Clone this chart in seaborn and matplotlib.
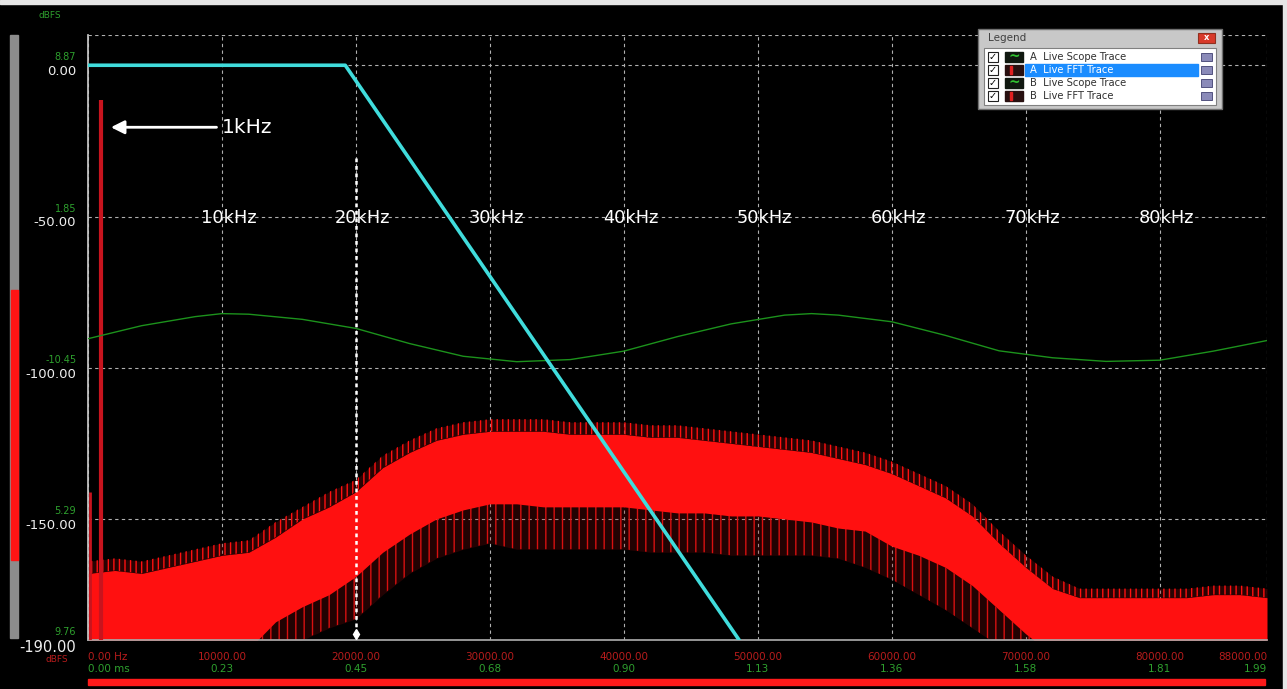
import numpy as np
import pandas as pd
import matplotlib
matplotlib.use('Agg')
import matplotlib.pyplot as plt
import seaborn as sns
from matplotlib.patches import Rectangle
from matplotlib.transforms import blended_transform_factory

# values
fft_khz = list(range(0, 89, 2))
fft_top = [-168, -167, -168, -166, -164, -162, -161, -156, -150, -146, -141, -133, -128, -124, -122,
           -121, -121, -121, -122, -122, -122, -123, -123, -124, -125, -126, -127, -128, -130, -132,
           -135, -139, -143, -149, -158, -166, -173, -176, -176, -176, -176, -176, -175, -175, -176]
fft_peak = [-164, -163, -164, -162, -160, -158, -157, -151, -146, -141, -137, -129, -124, -120, -118,
            -117, -117, -117, -118, -118, -118, -119, -119, -120, -121, -122, -123, -124, -126, -128,
            -131, -135, -139, -145, -154, -162, -169, -173, -173, -173, -173, -173, -172, -172, -173]
fft_bottom = [-195, -195, -195, -195, -195, -195, -193, -184, -179, -175, -169, -161, -155, -150, -147,
              -145, -145, -146, -146, -146, -146, -147, -148, -148, -149, -149, -150, -151, -153, -154,
              -159, -162, -166, -172, -180, -188, -195, -195, -195, -195, -195, -195, -195, -195, -195]
fft_dip = [-195, -195, -195, -195, -195, -195, -195, -195, -190, -186, -183, -175, -168, -163, -160,
           -158, -160, -160, -160, -160, -160, -161, -161, -161, -162, -162, -162, -162, -163, -166,
           -170, -175, -180, -186, -192, -195, -195, -195, -195, -195, -195, -195, -195, -195, -195]
spike_hz = [150, 1000]
spike_db = [-141, -11.6]

filter_hz = [0, 19200, 48600]
filter_db = [0, 0, -190]

scope_khz = [0, 4, 8, 10, 12, 16, 20, 24, 28, 32, 36, 40, 44, 48, 52, 54, 56, 60, 64, 68, 72, 76, 80, 84, 88]
scope_db = [-90.4, -86.1, -83.1, -82.1, -82.3, -84.0, -87.0, -92.0, -96.2, -98.0, -97.3, -94.5, -89.7,
            -85.5, -82.6, -82.1, -82.6, -84.8, -89.3, -94.4, -96.7, -97.9, -97.5, -94.5, -91.0]

freq_ticks = [0, 10000, 20000, 30000, 40000, 50000, 60000, 70000, 80000, 88000]
freq_labels = ['0.00 Hz', '10000.00', '20000.00', '30000.00', '40000.00', '50000.00',
               '60000.00', '70000.00', '80000.00', '88000.00']
time_labels = ['0.00 ms', '0.23', '0.45', '0.68', '0.90', '1.13', '1.36', '1.58', '1.81', '1.99']
db_ticks = [0, -50, -100, -150, -190]
db_labels = ['0.00', '-50.00', '-100.00', '-150.00', '-190.00']
scope_labels = ['8.87', '1.85', '-10.45', '5.29', '9.76']
marker_hz = [10000, 20000, 30000, 40000, 50000, 60000, 70000, 80000]
marker_labels = ['10kHz', '20kHz', '30kHz', '40kHz', '50kHz', '60kHz', '70kHz', '80kHz']
legend_entries = ['A  Live Scope Trace', 'A  Live FFT Trace', 'B  Live Scope Trace', 'B  Live FFT Trace']

sns.set_theme(style='dark', rc={'axes.facecolor': 'black', 'figure.facecolor': 'black'})
plt.rcParams['font.family'] = ['DejaVu Sans']
plt.rcParams['hatch.linewidth'] = 1.0

W, H = 1287, 689
fig = plt.figure(figsize=(W / 100, H / 100), dpi=100)
ax = fig.add_axes([88 / W, 1 - 640 / H, (1267 - 88) / W, (640 - 35) / H])
ax.set_facecolor('black')

# FFT trace: solid band between envelopes, hatched spike zones above and below
hz = np.array(fft_khz) * 1000
ax.fill_between(hz, fft_dip, fft_bottom, color='#8a0a0a', alpha=0.25, lw=0, zorder=2)
ax.fill_between(hz, fft_dip, fft_bottom, facecolor='none', edgecolor='#d81010',
                hatch='||', lw=0, zorder=2)
ax.fill_between(hz, fft_bottom, fft_top, color='#ff1010', lw=0, zorder=2)
ax.fill_between(hz, fft_top, fft_peak, color='#8a0a0a', alpha=0.3, lw=0, zorder=2)
ax.fill_between(hz, fft_top, fft_peak, facecolor='none', edgecolor='#ff1010',
                hatch='|||', lw=0, zorder=2)
ax.vlines(spike_hz, -190, spike_db, colors='#c8141e', linewidths=[2, 3], zorder=3)

scope = pd.DataFrame({'hz': np.array(scope_khz) * 1000, 'db': scope_db})
sns.lineplot(data=scope, x='hz', y='db', ax=ax, color='#1c921c', lw=1.0, zorder=4)
filt = pd.DataFrame({'hz': filter_hz, 'db': filter_db})
sns.lineplot(data=filt, x='hz', y='db', ax=ax, color='#40dcdc', lw=2.6, zorder=5)

# 20 kHz marker
ax.plot([20000, 20000], [-30.5, -189], color='white', lw=1.8, ls=(0, (1.5, 1.5)), zorder=6)
ax.plot([20000], [-188], marker='d', color='white', ms=5, zorder=6)

# 1 kHz arrow
ax.annotate('', xy=(1500, -20.5), xytext=(9800, -20.5),
            arrowprops=dict(arrowstyle='-|>', color='white', lw=2, mutation_scale=20), zorder=7)
ax.text(10000, -20.5, '1kHz', color='white', fontsize=14.5, ha='left', va='center', zorder=7)

for f, lab in zip(marker_hz, marker_labels):
    ax.text(f + 500, -50.5, lab, color='white', fontsize=12.8, ha='center', va='center', zorder=7)

ax.set_xlim(0, 88000)
ax.set_ylim(-190, 10)
ax.set_xlabel('')
ax.set_ylabel('')
ax.grid(True, color='#b0b0b0', linestyle=(0, (3, 3)), linewidth=0.8)
ax.axhline(10, color='#b0b0b0', linestyle=(0, (3, 3)), linewidth=0.8)
ax.set_axisbelow(True)
for side in ['top', 'right']:
    ax.spines[side].set_visible(False)
ax.spines['left'].set_color('#c8c8c8')
ax.spines['bottom'].set_color('#a8a8a8')

ax.set_xticks(freq_ticks)
ax.set_xticklabels(freq_labels, color='#b81c1c', fontsize=7.5)
ax.set_yticks(db_ticks)
ax.set_yticklabels(db_labels, color='#eeeeee', fontsize=9.5, va='top')
ax.tick_params(axis='x', length=0, pad=8.5)
ax.tick_params(axis='y', length=0, pad=8.5)
xl = ax.get_xticklabels()
xl[0].set_ha('left')
xl[-1].set_ha('right')
ax.get_yticklabels()[-1].set_fontsize(10.5)

bx = blended_transform_factory(ax.transData, ax.transAxes)
for i, (f, lab) in enumerate(zip(freq_ticks, time_labels)):
    ha = 'left' if i == 0 else ('right' if i == len(time_labels) - 1 else 'center')
    ax.annotate(lab, xy=(f, 0), xycoords=bx, xytext=(0, -21), textcoords='offset points',
                ha=ha, va='center', color='#2ea02e', fontsize=7.5, annotation_clip=False)
by = blended_transform_factory(ax.transAxes, ax.transData)
for v, lab in zip(db_ticks, scope_labels):
    ax.annotate(lab, xy=(0, v), xycoords=by, xytext=(-8.5, 2), textcoords='offset points',
                ha='right', va='bottom', color='#2ea02e', fontsize=7, annotation_clip=False)

# decorations in pixel coordinates
deco = fig.add_axes([0, 0, 1, 1], zorder=5)
deco.set_xlim(0, W)
deco.set_ylim(H, 0)
deco.axis('off')
deco.patch.set_alpha(0)

deco.add_patch(Rectangle((10, 35), 8, 603, color='#8c8c8c'))
deco.add_patch(Rectangle((11, 290), 7, 270, color='#ff1414'))
deco.add_patch(Rectangle((88, 679), 1177, 6, color='#ff1a1a'))
deco.add_patch(Rectangle((0, 0), W, 4, color='#e6e6e6'))
deco.add_patch(Rectangle((1283, 0), 4, H, color='#e6e6e6'))
deco.text(50, 16, 'dBFS', color='#2e9e2e', fontsize=6.5, ha='center', va='center')
deco.text(57, 660, 'dBFS', color='#b81c1c', fontsize=6.5, ha='center', va='center')

# legend window
deco.add_patch(Rectangle((978, 29), 244, 80, facecolor='#c8c8c8', edgecolor='#707070', lw=1))
deco.text(988, 38, 'Legend', color='#404040', fontsize=7.5, ha='left', va='center')
deco.add_patch(Rectangle((1198, 33), 17, 10, facecolor='#d83a2a', edgecolor='#903020', lw=0.8))
deco.text(1206.5, 38, 'x', color='white', fontsize=6, ha='center', va='center', weight='bold')
deco.add_patch(Rectangle((984, 48), 232, 57, facecolor='white', edgecolor='#808080', lw=0.8))
for i, lab in enumerate(legend_entries):
    yc = 57 + i * 13
    if i == 1:
        deco.add_patch(Rectangle((1025, yc - 6), 173, 12, color='#1a8cff'))
    deco.add_patch(Rectangle((988, yc - 5), 10, 10, facecolor='white', edgecolor='#202020', lw=0.8))
    deco.text(993, yc, '✓', color='black', fontsize=7, ha='center', va='center', weight='bold')
    deco.add_patch(Rectangle((1005, yc - 5), 18, 10, color='#101810' if i % 2 == 0 else '#281010'))
    if i % 2 == 0:
        deco.text(1014, yc, '~', color='#30c030', fontsize=10, ha='center', va='center', weight='bold')
    else:
        deco.add_patch(Rectangle((1010, yc - 4), 2, 8, color='#e02020'))
    deco.text(1030, yc, lab, color='white' if i == 1 else '#303030', fontsize=7.2, ha='left', va='center')
    deco.add_patch(Rectangle((1201, yc - 4), 11, 8, facecolor='#8a8ab8', edgecolor='#404070', lw=0.6))

fig.savefig('out.png', dpi=100, facecolor='black')
